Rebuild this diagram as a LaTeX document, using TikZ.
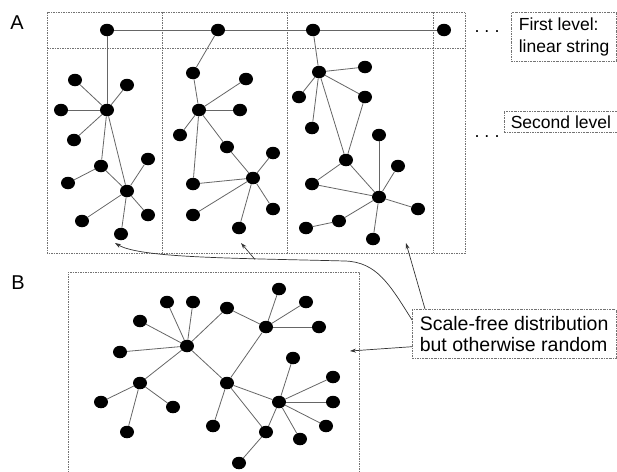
\documentclass[tikz,border=0pt]{standalone}
\usepackage{fontspec}
\setmainfont{Liberation Sans}
\usetikzlibrary{arrows.meta,calc,shapes.geometric}
\begin{document}
\begin{tikzpicture}[x=1pt,y=-1pt,
  vtx/.style={ellipse,fill=black,inner sep=0pt,minimum width=14pt,minimum height=12.5pt},
  edgeline/.style={draw=black!60,line width=0.8pt},
  panelframe/.style={draw=black!55,line width=0.6pt,dash pattern=on 1.5pt off 1pt},
  tbox/.style={draw=black!55,line width=0.6pt,dash pattern=on 2pt off 1pt on 0.6pt off 1pt,align=left,anchor=north west,inner ysep=0pt},
  arr/.style={draw=black!80,line width=0.7pt,-{Stealth[length=6pt,width=4pt]}},
  lbl/.style={font=\fontsize{20}{22}\selectfont,inner sep=0pt},
  ellip/.style={font=\fontsize{18}{20}\selectfont,inner sep=0pt}
]
\useasboundingbox (0,0) rectangle (617,471);

% panel frames
\draw[panelframe] (47,12) rectangle (465,253);
\draw[panelframe] (47,48) -- (465,48);
\foreach \xx in {162,287,433} \draw[panelframe] (\xx,12) -- (\xx,253);
\draw[panelframe] (68,480) -- (68,272) -- (359,272) -- (359,480);

% labels
\node[lbl] (la) at (17,23) {A};
\node[lbl] (lb) at (18,283) {B};

% first level
\node[vtx] (t1) at (107,30) {};
\node[vtx] (t2) at (218,30) {};
\node[vtx] (t3) at (313,30) {};
\node[vtx] (t4) at (444,30) {};
\draw[edgeline] (t1) -- (t2) -- (t3) -- (t4);

% column 1
\node[vtx] (a1) at (107,110) {};
\node[vtx] (a2) at (75,80) {};
\node[vtx] (a3) at (127,85) {};
\node[vtx] (a4) at (61,110) {};
\node[vtx] (a5) at (74,140) {};
\node[vtx] (a6) at (101,166) {};
\node[vtx] (a7) at (127,191) {};
\node[vtx] (a8) at (148,159) {};
\node[vtx] (a9) at (68,183) {};
\node[vtx] (a10) at (148,215) {};
\node[vtx] (a11) at (82,221) {};
\node[vtx] (a12) at (121,234) {};
\foreach \u/\v in {t1/a1,a1/a2,a1/a3,a1/a4,a1/a5,a1/a6,a1/a7,a6/a9,a6/a7,a7/a8,a7/a10,a7/a11,a7/a12}
  \draw[edgeline] (\u) -- (\v);

% column 2
\node[vtx] (c1) at (193,73) {};
\node[vtx] (c2) at (199,110) {};
\node[vtx] (c3) at (246,79) {};
\node[vtx] (c4) at (240,110) {};
\node[vtx] (c5) at (180,135) {};
\node[vtx] (c6) at (227,147) {};
\node[vtx] (c7) at (253,178) {};
\node[vtx] (c8) at (193,184) {};
\node[vtx] (c9) at (273,153) {};
\node[vtx] (c10) at (273,209) {};
\node[vtx] (c11) at (193,215) {};
\node[vtx] (c12) at (239,228) {};
\foreach \u/\v in {t2/c1,c1/c2,c2/c3,c2/c4,c2/c5,c2/c6,c6/c7,c2/c8,c8/c7,c7/c9,c7/c10,c7/c11,c7/c12}
  \draw[edgeline] (\u) -- (\v);

% column 3
\node[vtx] (d1) at (319,72) {};
\node[vtx] (d2) at (365,67) {};
\node[vtx] (d3) at (299,97) {};
\node[vtx] (d4) at (312,128) {};
\node[vtx] (d5) at (365,97) {};
\node[vtx] (d6) at (346,160) {};
\node[vtx] (d7) at (312,184) {};
\node[vtx] (d8) at (379,197) {};
\node[vtx] (d9) at (379,135) {};
\node[vtx] (d10) at (398,166) {};
\node[vtx] (d11) at (418,209) {};
\node[vtx] (d12) at (373,239) {};
\node[vtx] (d13) at (339,221) {};
\node[vtx] (d14) at (306,228) {};
\foreach \u/\v in {t3/d1,d1/d2,d1/d3,d1/d4,d1/d5,d5/d6,d1/d6,d6/d7,d6/d8,d7/d8,d8/d9,d8/d10,d8/d11,d8/d12,d8/d13,d13/d14}
  \draw[edgeline] (\u) -- (\v);

% panel B
\node[vtx] (b1) at (187,346) {};
\node[vtx] (b2) at (167,302) {};
\node[vtx] (b3) at (193,302) {};
\node[vtx] (b4) at (140,321) {};
\node[vtx] (b5) at (120,352) {};
\node[vtx] (b6) at (227,308) {};
\node[vtx] (b7) at (266,327) {};
\node[vtx] (b8) at (279,289) {};
\node[vtx] (b9) at (306,302) {};
\node[vtx] (b10) at (319,327) {};
\node[vtx] (b11) at (140,383) {};
\node[vtx] (b12) at (101,402) {};
\node[vtx] (b13) at (173,407) {};
\node[vtx] (b14) at (127,432) {};
\node[vtx] (b15) at (227,383) {};
\node[vtx] (b16) at (213,426) {};
\node[vtx] (b17) at (266,432) {};
\node[vtx] (b18) at (239,463) {};
\node[vtx] (b19) at (279,402) {};
\node[vtx] (b20) at (293,358) {};
\node[vtx] (b21) at (333,377) {};
\node[vtx] (b22) at (333,402) {};
\node[vtx] (b23) at (326,426) {};
\node[vtx] (b24) at (300,439) {};
\foreach \u/\v in {b1/b2,b1/b3,b1/b4,b1/b5,b1/b6,b6/b7,b7/b8,b7/b9,b7/b10,b1/b11,b11/b12,b11/b13,b11/b14,b1/b15,b15/b7,b15/b16,b15/b17,b17/b18,b15/b19,b19/b17,b19/b20,b19/b21,b19/b22,b19/b23,b19/b24}
  \draw[edgeline] (\u) -- (\v);

% text boxes
\node[tbox,inner xsep=7.5pt,minimum height=49pt,font=\fontsize{17.5}{22}\selectfont] (fl) at (511,12) {First level:\\linear string};
\node[tbox,inner xsep=6.5pt,minimum height=21pt,font=\fontsize{17.5}{20}\selectfont] (sl) at (504,111) {Second level};
\node[tbox,inner xsep=7.5pt,minimum height=49pt,font=\fontsize{19.5}{21}\selectfont] (sf) at (412,309) {Scale-free distribution\\but otherwise random};

\node[ellip] (e1) at (487,32) {.\hspace{5pt}.\hspace{5pt}.};
\node[ellip] (e2) at (487,137) {.\hspace{5pt}.\hspace{5pt}.};

% arrows
\coordinate (p1) at (115,243);
\coordinate (p2) at (241,243);
\coordinate (p3) at (406,243);
\coordinate (p4) at (350,351);
\coordinate (j) at (255,259.5);
\coordinate (s1) at ($(sf.north west)!0.22!(sf.south west)$);
\coordinate (s2) at ($(sf.north west)+(13,0)$);
\coordinate (s3) at ($(sf.north west)!0.76!(sf.south west)$);
\draw[arr] (s1) .. controls (390,285) and (377,262) .. (345,261) .. controls (230,258) and (140,258) .. (p1);
\draw[arr] (j) -- (p2);
\draw[arr] (s2) -- (p3);
\draw[arr] (s3) -- (p4);
\end{tikzpicture}
\end{document}
